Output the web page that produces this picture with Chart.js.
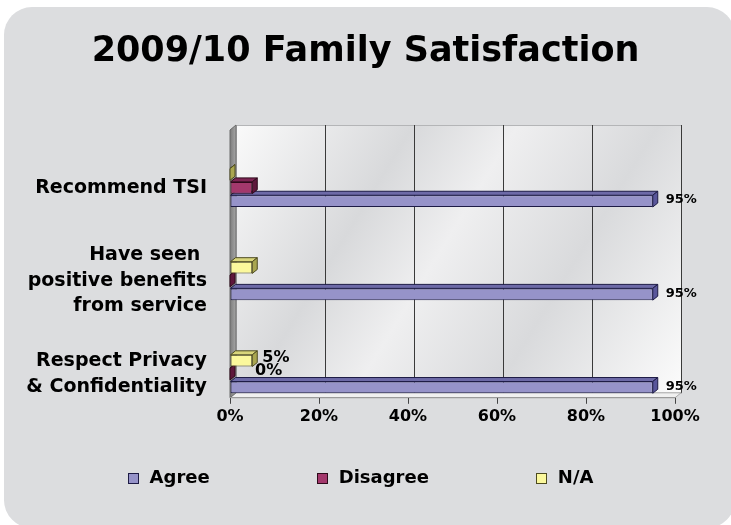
<!DOCTYPE html>
<html>
<head>
<meta charset="utf-8">
<title>2009/10 Family Satisfaction</title>
<script src="https://cdn.jsdelivr.net/npm/chart.js@4.4.1/dist/chart.umd.min.js"></script>
<style>
  html, body { margin: 0; padding: 0; background: #fff; }
  #frame { position: relative; width: 731px; height: 525px; overflow: hidden; }
  #panel { position: absolute; left: 4px; top: 7px; width: 731px; height: 521px; border-radius: 28px; background: #dcdddf; }
  canvas { position: absolute; left: 0; top: 0; }
</style>
</head>
<body>
<div id="frame">
  <div id="panel"></div>
  <canvas id="chart" width="731" height="525"></canvas>
</div>
<script>
// categories top to bottom, as read on the picture
const categories = ['Recommend TSI', ['Have seen ', 'positive benefits', 'from service'], ['Respect Privacy', '& Confidentiality']];
const agree = [95, 95, 95];
const disagree = [5, 0, 0];
const notApplicable = [0, 5, 5];
const xTicks = [0, 20, 40, 60, 80, 100];

const seriesNames = ['Agree', 'Disagree', 'N/A'];
const seriesValues = [agree, disagree, notApplicable];

const barStyles = {
  'Agree':    { fill: '#9693c9', top: '#6d6aa7', side: '#59569a', line: '#1d1b45' },
  'Disagree': { fill: '#a3386c', top: '#7c2452', side: '#5e173b', line: '#2e0a1b' },
  'N/A':      { fill: '#fbf89c', top: '#d9d67b', side: '#a9a650', line: '#4d4b20' }
};
const depth = { dx: 5, dy: 4 };
const font = 'DejaVu Sans';

// Agree at the bottom of each group, so the datasets go in reverse
const datasets = seriesNames.map((name, s) => ({
  label: name,
  data: seriesValues[s].map((v, i) => ({ x: v, y: i })),
  backgroundColor: barStyles[name].fill,
  borderColor: barStyles[name].line,
  borderWidth: 1,
  borderSkipped: false,
  categoryPercentage: 0.43,
  barPercentage: 0.88
})).reverse();

function poly(ctx, pts) {
  ctx.beginPath();
  ctx.moveTo(pts[0][0], pts[0][1]);
  for (let i = 1; i < pts.length; i++) ctx.lineTo(pts[i][0], pts[i][1]);
  ctx.closePath();
  ctx.fill();
  ctx.stroke();
}

// back wall, left wall, floor and the gridlines on the wall
const wallPlugin = {
  id: 'wall',
  beforeDraw(chart) {
    const { ctx, chartArea: a, scales: { x } } = chart;
    const D = 6, E = 5;
    ctx.save();
    const g = ctx.createLinearGradient(a.left, a.top, a.right, a.bottom);
    g.addColorStop(0, '#fbfbfb');
    g.addColorStop(0.3, '#d8d9db');
    g.addColorStop(0.47, '#efeff0');
    g.addColorStop(0.7, '#d9dadc');
    g.addColorStop(1, '#fbfbfb');
    ctx.fillStyle = g;
    ctx.fillRect(a.left + D, a.top, a.right - a.left, a.bottom - E - a.top);
    ctx.strokeStyle = '#b4b5b7';
    ctx.lineWidth = 1;
    ctx.strokeRect(a.left + D + 0.5, a.top + 0.5, a.right - a.left, a.bottom - E - a.top);

    ctx.strokeStyle = '#3a3a3a';
    x.ticks.forEach(t => {
      if (t.value === 0) return;
      const px = Math.round(x.getPixelForValue(t.value) + D) + 0.5;
      ctx.beginPath();
      ctx.moveTo(px, a.top);
      ctx.lineTo(px, a.bottom - E);
      ctx.stroke();
    });

    ctx.fillStyle = '#f0f0f0';
    ctx.strokeStyle = '#a9a9a9';
    poly(ctx, [[a.left, a.bottom], [a.left + D, a.bottom - E], [a.right + D, a.bottom - E], [a.right, a.bottom]]);

    const w = ctx.createLinearGradient(a.left, 0, a.left + D, 0);
    w.addColorStop(0, '#7c7c7c');
    w.addColorStop(1, '#a6a6a6');
    ctx.fillStyle = w;
    ctx.strokeStyle = '#6a6a6a';
    poly(ctx, [[a.left, a.top + E], [a.left + D, a.top], [a.left + D, a.bottom - E], [a.left, a.bottom]]);
    ctx.restore();
  }
};

// top and side faces of each bar
const depthPlugin = {
  id: 'barDepth',
  afterDatasetDraw(chart, args) {
    const { ctx } = chart;
    const st = barStyles[chart.data.datasets[args.index].label];
    const { dx, dy } = depth;
    ctx.save();
    ctx.lineWidth = 1;
    ctx.strokeStyle = st.line;
    ctx.lineJoin = 'round';
    args.meta.data.forEach(el => {
      const { x, y, base, height } = el.getProps(['x', 'y', 'base', 'height'], true);
      const t = y - height / 2, b = y + height / 2;
      const x0 = Math.min(x, base), x1 = Math.max(x, base);
      ctx.fillStyle = st.top;
      poly(ctx, [[x0, t], [x0 + dx, t - dy], [x1 + dx, t - dy], [x1, t]]);
      ctx.fillStyle = st.side;
      poly(ctx, [[x1, t], [x1 + dx, t - dy], [x1 + dx, b - dy], [x1, b]]);
    });
    ctx.restore();
  }
};

// value labels: every Agree bar, the other series only on the last row
const labelPlugin = {
  id: 'valueLabels',
  afterDatasetsDraw(chart) {
    const { ctx, chartArea } = chart;
    ctx.save();
    ctx.fillStyle = '#000';
    ctx.textAlign = 'left';
    ctx.textBaseline = 'middle';
    chart.data.datasets.forEach((ds, di) => {
      const big = ds.label !== 'Agree';
      chart.getDatasetMeta(di).data.forEach((el, i) => {
        if (big && i !== categories.length - 1) return;
        const p = el.getProps(['x', 'y'], true);
        ctx.font = 'bold ' + (big ? 16 : 13) + 'px "' + font + '"';
        const tx = Math.max(p.x + depth.dx + (big ? 5 : 8), chartArea.left + 25);
        ctx.fillText(ds.data[i].x + '%', tx, p.y - (big ? 3 : 1));
      });
    });
    ctx.restore();
  }
};

// legend row under the axis, in series order
const legendPlugin = {
  id: 'bottomLegend',
  afterDraw(chart) {
    const { ctx } = chart;
    const box = 10, gap = 12, spacing = 107, y = 478;
    ctx.save();
    ctx.font = 'bold 18px "' + font + '"';
    const widths = seriesNames.map(n => box + gap + ctx.measureText(n).width);
    const total = widths.reduce((a, b) => a + b, 0) + spacing * (seriesNames.length - 1);
    let x = chart.width / 2 - 5 - total / 2;
    seriesNames.forEach((n, i) => {
      const st = barStyles[n];
      ctx.fillStyle = st.fill;
      ctx.strokeStyle = st.line;
      ctx.lineWidth = 1;
      ctx.fillRect(Math.round(x) + 0.5, y - 5 + 0.5, box, box);
      ctx.strokeRect(Math.round(x) + 0.5, y - 5 + 0.5, box, box);
      ctx.fillStyle = '#000';
      ctx.textAlign = 'left';
      ctx.textBaseline = 'middle';
      ctx.fillText(n, x + box + gap, y);
      x += widths[i] + spacing;
    });
    ctx.restore();
  }
};

new Chart(document.getElementById('chart'), {
  type: 'bar',
  data: { datasets },
  options: {
    responsive: false,
    animation: false,
    indexAxis: 'y',
    layout: { padding: { left: 0, right: 0, top: 0, bottom: 96 } },
    scales: {
      x: {
        type: 'linear',
        min: 0,
        max: 100,
        afterBuildTicks: s => { s.ticks = xTicks.map(v => ({ value: v })); },
        ticks: { callback: v => v + '%', color: '#000', padding: 3, font: { family: font, size: 16, weight: 'bold' } },
        grid: { drawOnChartArea: false, drawTicks: true, tickLength: 6, color: '#444' },
        border: { display: true, color: '#9a9a9a' }
      },
      y: {
        type: 'linear',
        reverse: true,
        offset: false,
        min: -0.674,
        max: 2.255,
        afterBuildTicks: s => { s.ticks = categories.map((c, i) => ({ value: i })); },
        afterFit: s => { s.width = 230; },
        ticks: { callback: v => categories[v], color: '#000', padding: 23, font: { family: font, size: 19, weight: 'bold', lineHeight: 1.35 } },
        grid: { display: false, drawTicks: false, offset: false },
        border: { display: false }
      },
      // empty right axis that only keeps the margin beside the plot
      side: {
        type: 'linear',
        position: 'right',
        afterFit: s => { s.width = 56; },
        ticks: { display: false },
        grid: { display: false, drawTicks: false },
        border: { display: false }
      }
    },
    plugins: {
      legend: { display: false },
      tooltip: { enabled: false },
      title: {
        display: true,
        text: '2009/10 Family Satisfaction',
        color: '#000',
        font: { family: font, size: 35, weight: 'bold', lineHeight: 1.2 },
        padding: { top: 31, bottom: 52 }
      }
    }
  },
  plugins: [wallPlugin, depthPlugin, labelPlugin, legendPlugin]
});
</script>
</body>
</html>
